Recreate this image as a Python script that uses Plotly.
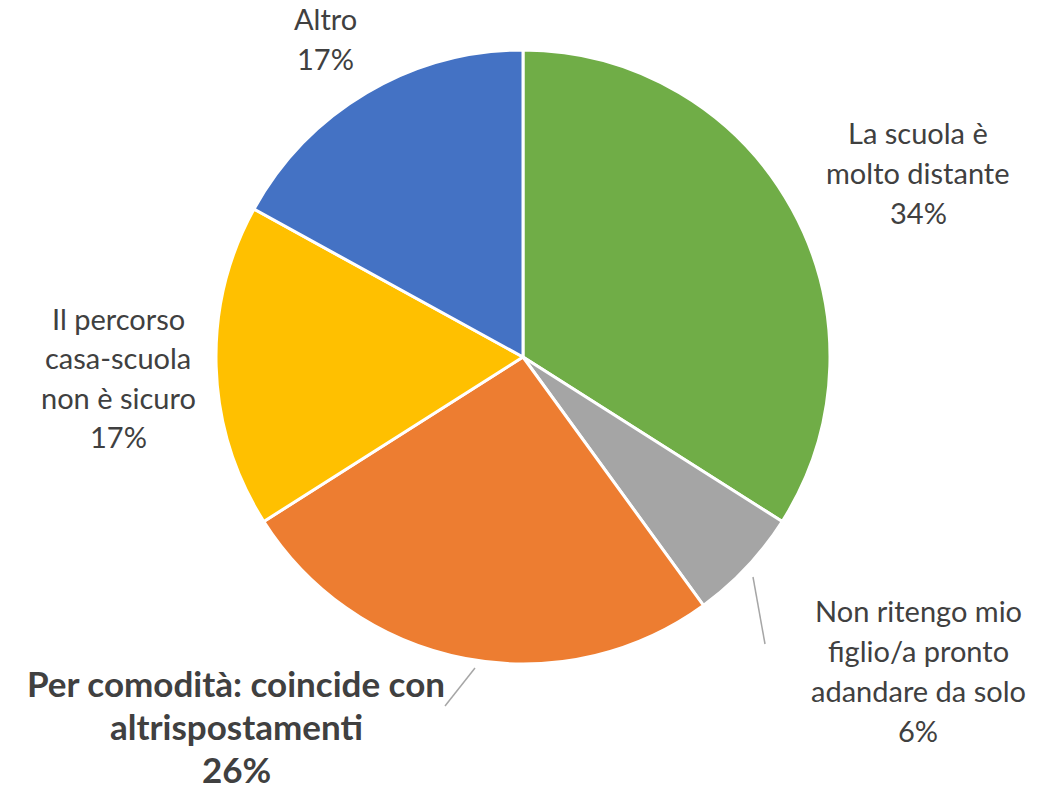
import plotly.graph_objects as go

# data
categories = [
    'La scuola è molto distante',
    'Non ritengo mio figlio/a pronto adandare da solo',
    'Per comodità: coincide con altrispostamenti',
    'Il percorso casa-scuola non è sicuro',
    'Altro',
]
shares = [34, 6, 26, 17, 17]
colors = ['#70AD47', '#A5A5A5', '#ED7D31', '#FFC000', '#4472C4']

label_lines = [
    ['La scuola è', 'molto distante', '34%'],
    ['Non ritengo mio', 'figlio/a pronto', 'adandare da solo', '6%'],
    ['Per comodità: coincide con', 'altrispostamenti', '26%'],
    ['Il percorso', 'casa-scuola', 'non è sicuro', '17%'],
    ['Altro', '17%'],
]
label_bold = [False, False, True, False, False]

# label placement in pixels (centre x, first line y, line step)
label_pos = [(910, 125, 40), (910, 602, 40), (228, 675, 43), (110, 311, 39), (317, 11, 40)]

W, H = 1050, 796
TEXT = '#404040'

def px(x):
    return x / W

def py(y):
    return 1 - y / H

fig = go.Figure(
  layout=dict(
    width=W, height=H,
    margin=dict(l=0, r=0, t=0, b=0),
    paper_bgcolor='white',
    plot_bgcolor='white',
    showlegend=False,
    font=dict(family='Lato', color=TEXT),
  )
)

# plotly nudges the pie a few px right/down, so the domain is offset to compensate
fig.add_trace(go.Pie(
  labels=categories,
  values=shares,
  sort=False,
  direction='clockwise',
  rotation=0,
  marker=dict(colors=colors, line=dict(color='white', width=3)),
  textinfo='none',
  hoverinfo='label+percent',
  domain=dict(x=[px(515 - 307), px(515 + 307)], y=[py(656), py(42)]),
))

# slice labels, one annotation per line so the spacing follows the original
for lines, bold, (cx, y0, step) in zip(label_lines, label_bold, label_pos):
    for i, line in enumerate(lines):
        fig.add_annotation(
          x=px(cx), y=py(y0 + i * step),
          xref='paper', yref='paper',
          text='<b>{}</b>'.format(line) if bold else line,
          showarrow=False,
          xanchor='center', yanchor='middle',
          font=dict(size=35 if bold else 29, color=TEXT, family='Lato'),
        )

# leader lines
for (x0, y0, x1, y1) in [(745, 569, 757, 636), (467, 660, 437, 698)]:
    fig.add_shape(
      type='line', xref='paper', yref='paper',
      x0=px(x0), y0=py(y0), x1=px(x1), y1=py(y1),
      line=dict(color='#A6A6A6', width=1.5),
    )

fig.write_html('out.html')
